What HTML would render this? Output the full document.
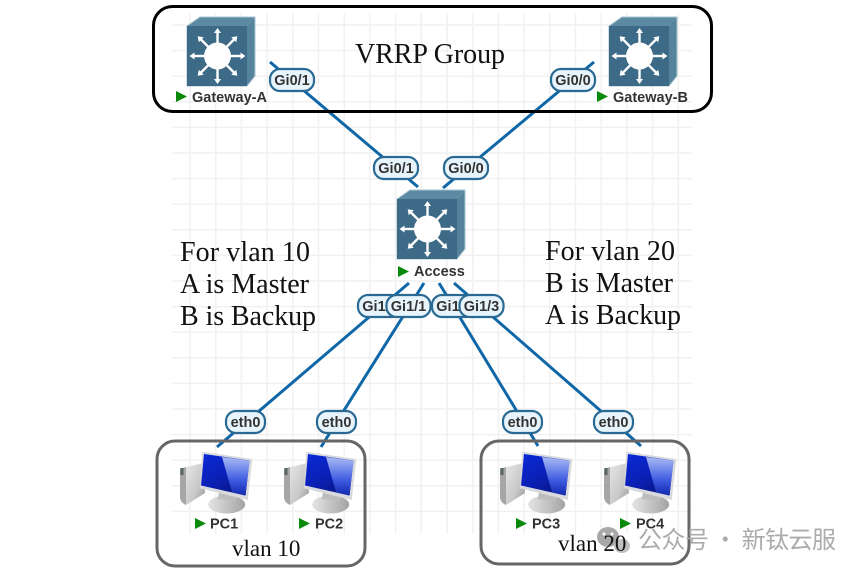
<!DOCTYPE html>
<html><head><meta charset="utf-8"><style>
html,body{margin:0;padding:0;background:#fff}
svg{display:block}
.s{font-family:"Liberation Serif",serif;font-size:28px;fill:#111}
.n{font-family:"Liberation Sans",sans-serif;font-size:14.5px;font-weight:bold;fill:#333}
.p{font-family:"Liberation Sans",sans-serif;font-size:14.5px;font-weight:bold;fill:#333;text-anchor:middle}
.pr{fill:#e8f4fc;stroke:#2a6a92;stroke-width:2.2}
.l{stroke:#0f67a8;stroke-width:3;fill:none}
</style></head><body>
<svg width="864" height="574" viewBox="0 0 864 574" xmlns="http://www.w3.org/2000/svg">
<defs>
<linearGradient id="scr" x1="0" y1="0" x2="0.8" y2="1"><stop offset="0" stop-color="#0a2ad8"/><stop offset="0.6" stop-color="#0a1fb0"/><stop offset="1" stop-color="#08167a"/></linearGradient>
<linearGradient id="hl" x1="0" y1="0" x2="0" y2="1"><stop offset="0" stop-color="#a9bbf5"/><stop offset="0.6" stop-color="#3f5ce0"/><stop offset="1" stop-color="#1026b0"/></linearGradient>
<linearGradient id="tw" x1="0" y1="0" x2="1" y2="1"><stop offset="0" stop-color="#e6e6e6"/><stop offset="0.6" stop-color="#c8c8c8"/><stop offset="1" stop-color="#969696"/></linearGradient>
<linearGradient id="ba" x1="0" y1="0" x2="1" y2="0"><stop offset="0" stop-color="#e4e4e4"/><stop offset="1" stop-color="#a4a4a4"/></linearGradient>
<g id="arm"><path d="M0 -13 L0 -24" stroke="#fff" stroke-width="2.4"/><path d="M-3.500 -23 L0 -28 L3.500 -23Z" fill="#fff"/></g>
<g id="sw">
<path d="M0 0 L13 -9 L68 -9 L60 0Z" fill="#5c8aa3"/>
<path d="M60 0 L68 -9 L68 50 L60 60Z" fill="#55839c"/>
<path d="M0 0 L13 -9 L68 -9 L68 50 L60 60 L0 60Z" fill="none" stroke="#a9c3d2" stroke-width="1"/>
<rect x="0" y="0" width="60" height="60" fill="#3d6b87"/>
<g transform="translate(30.5,30)">
<use href="#arm"/><use href="#arm" transform="rotate(45)"/><use href="#arm" transform="rotate(90)"/><use href="#arm" transform="rotate(135)"/><use href="#arm" transform="rotate(180)"/><use href="#arm" transform="rotate(225)"/><use href="#arm" transform="rotate(270)"/><use href="#arm" transform="rotate(315)"/>
<circle r="13.5" fill="#fff"/>
</g>
</g>
<g id="pc">
<path d="M186 467 L204 463 L205 493 L186 505Z" fill="url(#tw)"/>
<path d="M180 469 L186 467 L186 505 Q181 503 180 498Z" fill="#a6a6a6"/>
<rect x="180.500" y="468" width="3" height="7" fill="#5a6660"/>
<ellipse cx="226.700" cy="504.500" rx="18.500" ry="9" fill="url(#ba)"/>
<path d="M219 490 L236 494 L236 501 L218 499Z" fill="#bdbdbd"/>
<path d="M202.300 451.700 L252.300 459 L247.700 500 L200 488.300Z" fill="#d8dadd"/>
<path d="M204 454 L249.500 460.500 L245.500 495.500 L201 485.500Z" fill="url(#scr)"/>
<path d="M222 457 L249.500 460.500 L245.500 495.500 L232 492Z" fill="url(#hl)"/>
</g>
<path id="tri" d="M0 0 L11 5.500 L0 11Z" fill="#0a8a0a"/>
</defs>

<!-- grid -->
<g stroke="#f1f1f1" stroke-width="1.500" fill="none">
<path d="M190 13V534M215.700 13V534M241.400 13V534M267.100 13V534M292.800 13V534M318.500 13V534M344.200 13V534M369.900 13V534M395.600 13V534M421.300 13V534M447 13V534M472.700 13V534M498.400 13V534M524.100 13V534M549.800 13V534M575.500 13V534M601.200 13V534M626.900 13V534M652.600 13V534M678.300 13V534"/>
<path d="M172 25H692M172 50.600H692M172 76.200H692M172 101.800H692M172 127.400H692M172 153H692M172 178.600H692M172 204.200H692M172 229.800H692M172 255.400H692M172 281H692M172 306.600H692M172 332.200H692M172 357.800H692M172 383.400H692M172 409H692M172 434.600H692M172 460.200H692M172 485.800H692M172 511.400H692"/>
</g>

<!-- connectors -->
<path class="l" d="M270 62 L418 187"/>
<path class="l" d="M594 62 L443 188"/>
<path class="l" d="M409 283 L217 447"/>
<path class="l" d="M424 283 L321 447"/>
<path class="l" d="M439 283 L538 446"/>
<path class="l" d="M454 283 L641 446"/>

<!-- group boxes -->
<rect x="153.500" y="6.500" width="558" height="105" rx="19" fill="none" stroke="#000" stroke-width="3"/>
<rect x="157" y="441" width="208" height="125" rx="18" fill="none" stroke="#666" stroke-width="3"/>
<rect x="481" y="441" width="208" height="123" rx="18" fill="none" stroke="#666" stroke-width="3"/>

<!-- switches -->
<use href="#sw" x="187" y="26"/>
<use href="#sw" x="609" y="26"/>
<use href="#sw" x="397" y="199"/>

<!-- PCs -->
<use href="#pc"/>
<use href="#pc" x="104"/>
<use href="#pc" x="320"/>
<use href="#pc" x="424"/>

<!-- status triangles & node labels -->
<use href="#tri" x="176" y="91"/><text class="n" x="192" y="102">Gateway-A</text>
<use href="#tri" x="597" y="91"/><text class="n" x="613" y="102">Gateway-B</text>
<use href="#tri" x="398" y="266"/><text class="n" x="414" y="276">Access</text>
<use href="#tri" x="195" y="518"/><text class="n" x="210" y="528.500">PC1</text>
<use href="#tri" x="299" y="518"/><text class="n" x="315" y="528.500">PC2</text>
<use href="#tri" x="516" y="518"/><text class="n" x="532" y="528.500">PC3</text>
<use href="#tri" x="620" y="518"/><text class="n" x="636" y="528.500">PC4</text>

<!-- interface pills -->
<rect class="pr" x="270" y="69" width="44" height="22" rx="10"/><text class="p" x="292" y="85">Gi0/1</text>
<rect class="pr" x="551" y="69" width="44" height="22" rx="10"/><text class="p" x="573" y="85">Gi0/0</text>
<rect class="pr" x="374" y="157" width="44" height="22" rx="10"/><text class="p" x="396" y="173">Gi0/1</text>
<rect class="pr" x="444" y="157" width="44" height="22" rx="10"/><text class="p" x="466" y="173">Gi0/0</text>
<rect class="pr" x="358" y="295" width="44" height="22" rx="10"/><text class="p" x="380" y="311">Gi1/0</text>
<rect class="pr" x="386.500" y="295" width="44" height="22" rx="10"/><text class="p" x="408.500" y="311">Gi1/1</text>
<rect class="pr" x="432" y="295" width="44" height="22" rx="10"/><text class="p" x="454" y="311">Gi1/2</text>
<rect class="pr" x="459.500" y="295" width="44" height="22" rx="10"/><text class="p" x="481.500" y="311">Gi1/3</text>
<rect class="pr" x="226" y="411" width="39" height="22" rx="10"/><text class="p" x="245.500" y="427">eth0</text>
<rect class="pr" x="317" y="411" width="39" height="22" rx="10"/><text class="p" x="336.500" y="427">eth0</text>
<rect class="pr" x="503" y="411" width="39" height="22" rx="10"/><text class="p" x="522.500" y="427">eth0</text>
<rect class="pr" x="594" y="411" width="39" height="22" rx="10"/><text class="p" x="613.500" y="427">eth0</text>

<!-- annotations -->
<text class="s" x="355" y="63" textLength="150">VRRP Group</text>
<text class="s" x="180" y="261" textLength="130">For vlan 10</text>
<text class="s" x="180" y="293" textLength="129">A is Master</text>
<text class="s" x="180" y="325" textLength="136">B is Backup</text>
<text class="s" x="545" y="260" textLength="130">For vlan 20</text>
<text class="s" x="545" y="292" textLength="128">B is Master</text>
<text class="s" x="545" y="324" textLength="136">A is Backup</text>
<text class="s" x="232" y="556" style="font-size:23px">vlan 10</text>

<!-- watermark -->
<ellipse cx="608" cy="537" rx="11" ry="10" fill="#a8a8a8"/>
<ellipse cx="622" cy="546" rx="8" ry="7" fill="#c0c0c0"/>
<circle cx="604" cy="534" r="1.500" fill="#fff"/><circle cx="612" cy="534" r="1.500" fill="#fff"/>
<text class="s" x="558" y="551" style="font-size:23px">vlan 20</text>
<text x="638" y="548" textLength="198" style="font-family:'Noto Sans CJK SC',sans-serif;font-size:24px;fill:#ababab">公众号 · 新钛云服</text>
</svg>
</body></html>
